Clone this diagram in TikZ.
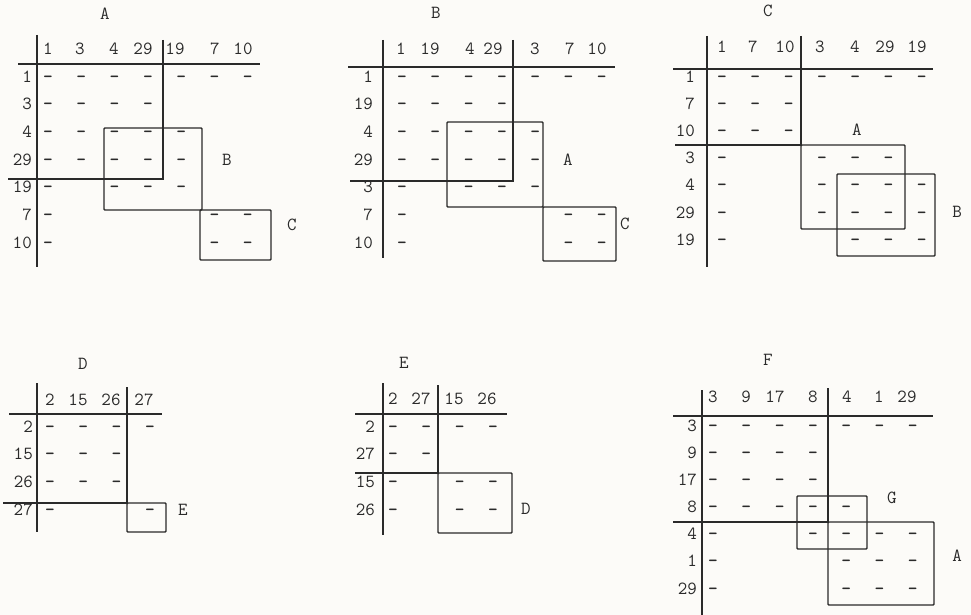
\documentclass[tikz,border=0pt]{standalone}
\usepackage{fontspec}
\usepackage{xcolor}
\usepackage{tikz}
\definecolor{inkgray}{HTML}{2A2A2A}
\definecolor{paper}{HTML}{FCFBF8}

\begin{document}
\begin{tikzpicture}[
  x=1pt, y=-1pt,
  txt/.style={font=\ttfamily\fontsize{18.5}{18.5}\selectfont, text=inkgray, inner sep=0pt, anchor=mid},
  rowlbl/.style={txt, anchor=mid east},
  entry/.style={txt, font=\ttfamily\bfseries\fontsize{18.5}{18.5}\selectfont},
  rule/.style={draw=inkgray, line width=1.4pt},
  blk/.style={draw=inkgray, line width=1.4pt, rounded corners=0.8pt}
]
  \fill[paper] (0,0) rectangle (971,615);
  \useasboundingbox (0,0) rectangle (971,615);

  % matrix A
  \node[txt] (tA) at (105,17) {A};
  \foreach \x/\lab [count=\i] in {48/1,80/3,114/4,143/29,175/19,215/7,243/10}
    \node[txt] (A-h\i) at (\x,52) {\lab};
  \foreach \lab [count=\r] in {1,3,4,29,19,7,10}
    \node[rowlbl] (A-r\r) at (32,{52.3+27.7*\r}) {\lab};
  \foreach \cs [count=\r] in {{1,2,3,4,5,6,7},{1,2,3,4},{1,2,3,4,5},{1,2,3,4,5},{1,3,4,5},{1,6,7},{1,6,7}}
    \foreach \c in \cs
      \node[entry] (A-\r-\c) at ({14.7+33.3*\c},{52.3+27.7*\r}) {-};
  \draw[rule] (37,35) -- (37,267);
  \draw[rule] (18,64) -- (260,64);
  \draw[rule] (163,40) -- (163,179) -- (8,179);
  \draw[blk] (104,128) rectangle (202,210);
  \draw[blk] (200,210) rectangle (271,260);
  \node[txt] (A-lB) at (227,163) {B};
  \node[txt] (A-lC) at (292,228) {C};

  % matrix B
  \node[txt] (tB) at (436,16) {B};
  \foreach \x/\lab [count=\i] in {401/1,430/19,470/4,493/29,535/3,570/7,597/10}
    \node[txt] (B-h\i) at (\x,52) {\lab};
  \foreach \lab [count=\r] in {1,19,4,29,3,7,10}
    \node[rowlbl] (B-r\r) at (373,{52.3+27.7*\r}) {\lab};
  \foreach \cs [count=\r] in {{1,2,3,4,5,6,7},{1,2,3,4},{1,2,3,4,5},{1,2,3,4,5},{1,3,4,5},{1,6,7},{1,6,7}}
    \foreach \c in \cs
      \node[entry] (B-\r-\c) at ({368.7+33.3*\c},{52.3+27.7*\r}) {-};
  \draw[rule] (383,40) -- (383,258);
  \draw[rule] (348,67) -- (615,67);
  \draw[rule] (513,40) -- (513,181) -- (350,181);
  \draw[blk] (447,122) rectangle (543,207);
  \draw[blk] (543,207) rectangle (616,261);
  \node[txt] (B-lA) at (568,163) {A};
  \node[txt] (B-lC) at (625,227) {C};

  % matrix C
  \node[txt] (tC) at (768,14) {C};
  \foreach \x/\lab [count=\i] in {722/1,753/7,785/10,820/3,855/4,885/29,917/19}
    \node[txt] (C-h\i) at (\x,50) {\lab};
  \foreach \lab [count=\r] in {1,7,10,3,4,29,19}
    \node[rowlbl] (C-r\r) at (695,{52.8+27.2*\r}) {\lab};
  \foreach \cs [count=\r] in {{1,2,3,4,5,6,7},{1,2,3},{1,2,3},{1,4,5,6},{1,4,5,6,7},{1,4,5,6,7},{1,5,6,7}}
    \foreach \c in \cs
      \node[entry] (C-\r-\c) at ({688.7+33.3*\c},{52.8+27.2*\r}) {-};
  \draw[rule] (707,36) -- (707,267);
  \draw[rule] (673,69) -- (933,69);
  \draw[rule] (801,36) -- (801,145) -- (675,145);
  \draw[blk] (801,145) rectangle (905,229);
  \draw[blk] (837,174) rectangle (935,256);
  \node[txt] (C-lA) at (857,133) {A};
  \node[txt] (C-lB) at (957,215) {B};

  % matrix D
  \node[txt] (tD) at (83,367) {D};
  \foreach \x/\lab [count=\i] in {50/2,78/15,111/26,144/27}
    \node[txt] (D-h\i) at (\x,403) {\lab};
  \foreach \lab [count=\r] in {2,15,26,27}
    \node[rowlbl] (D-r\r) at (33,{402.3+27.7*\r}) {\lab};
  \foreach \cs [count=\r] in {{1,2,3,4},{1,2,3},{1,2,3},{1,4}}
    \foreach \c in \cs
      \node[entry] (D-\r-\c) at ({16.7+33.3*\c},{402.3+27.7*\r}) {-};
  \draw[rule] (37,383) -- (37,532);
  \draw[rule] (9,414) -- (162,414);
  \draw[rule] (127,387) -- (127,503) -- (3,503);
  \draw[blk] (127,503) rectangle (166,532);
  \node[txt] (D-lE) at (183,513) {E};

  % matrix E
  \node[txt] (tE) at (404,366) {E};
  \foreach \x/\lab [count=\i] in {393/2,421/27,454/15,487/26}
    \node[txt] (E-h\i) at (\x,402) {\lab};
  \foreach \lab [count=\r] in {2,27,15,26}
    \node[rowlbl] (E-r\r) at (375,{402.3+27.7*\r}) {\lab};
  \foreach \cs [count=\r] in {{1,2,3,4},{1,2},{1,3,4},{1,3,4}}
    \foreach \c in \cs
      \node[entry] (E-\r-\c) at ({359.7+33.3*\c},{402.3+27.7*\r}) {-};
  \draw[rule] (383,383) -- (383,535);
  \draw[rule] (355,414) -- (507,414);
  \draw[rule] (438,385) -- (438,473) -- (355,473);
  \draw[blk] (438,473) rectangle (512,533);
  \node[txt] (E-lD) at (526,512) {D};

  % matrix F
  \node[txt] (tF) at (768,363) {F};
  \foreach \x/\lab [count=\i] in {713/3,746/9,775/17,813/8,847/4,879/1,907/29}
    \node[txt] (F-h\i) at (\x,400) {\lab};
  \foreach \lab [count=\r] in {3,9,17,8,4,1,29}
    \node[rowlbl] (F-r\r) at (697,{401.8+27.17*\r}) {\lab};
  \foreach \cs [count=\r] in {{1,2,3,4,5,6,7},{1,2,3,4},{1,2,3,4},{1,2,3,4,5},{1,4,5,6,7},{1,5,6,7},{1,5,6,7}}
    \foreach \c in \cs
      \node[entry] (F-\r-\c) at ({679.7+33.3*\c},{401.8+27.17*\r}) {-};
  \draw[rule] (702,390) -- (702,615);
  \draw[rule] (673,416) -- (933,416);
  \draw[rule] (828,388) -- (828,522) -- (673,522);
  \draw[blk] (828,522) rectangle (934,605);
  \draw[blk] (797,496) rectangle (867,549);
  \node[txt] (F-lG) at (892,501) {G};
  \node[txt] (F-lA) at (957,559) {A};
\end{tikzpicture}
\end{document}
